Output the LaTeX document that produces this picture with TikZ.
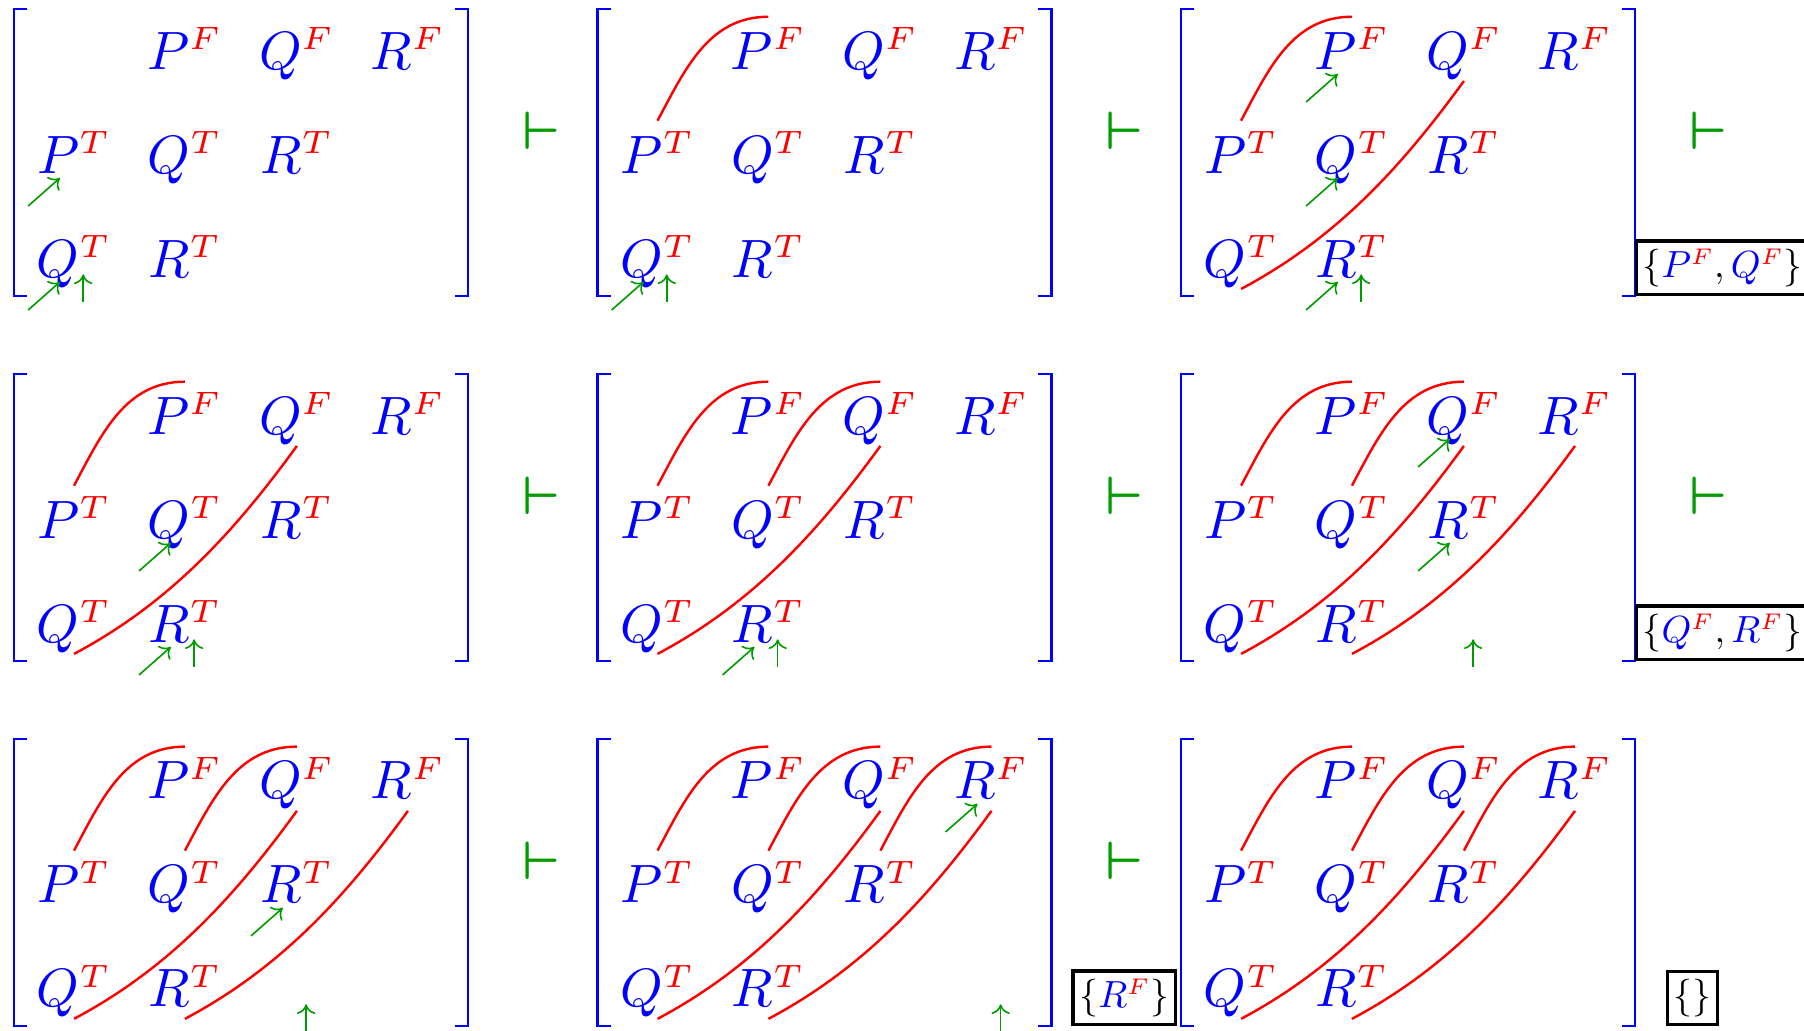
\documentclass[tikz,border=0pt]{standalone}
\usepackage{amsmath}
\usepackage{tikz}
\usetikzlibrary{arrows.meta}
\definecolor{grn}{HTML}{009B00}
\newcommand{\litr}[2]{\textcolor{blue}{#1}^{\text{\fontsize{6}{7}\selectfont\color{red}$#2$}}}
\tikzset{
  brak/.style={blue,line width=0.45pt},
  lit/.style={anchor=base,inner sep=2pt,text height=7.5pt,text depth=0pt},
  link/.style={red,line width=0.45pt},
  hop/.style={out=62,in=180},
  reach/.style={out=28,in=234,looseness=0.9},
  ptr/.style={-{To[length=1.8pt,width=3.4pt]},grn,line width=0.3pt},
  tstile/.style={grn},
  setbox/.style={draw=black,line width=0.6pt,scale=0.7,transform shape,inner xsep=1.7pt,inner ysep=2pt},
}
% one bracketed matrix, #1 = name, #2 = top left corner
\newcommand{\matpanel}[2]{%
  \begin{scope}[shift={#2}]
    \coordinate (#1-se) at (2.956,-1.868);
    \draw[brak] (0.085,0) -- (0,0) -- (0,-1.868) -- (0.085,-1.868);
    \draw[brak] (2.871,0) -- (2.956,0) -- (2.956,-1.868) -- (2.871,-1.868);
    \node[lit] (#1-pf) at (1.113,-0.391) {$\litr{P}{F}$};
    \node[lit] (#1-qf) at (1.842,-0.391) {$\litr{Q}{F}$};
    \node[lit] (#1-rf) at (2.565,-0.391) {$\litr{R}{F}$};
    \node[lit] (#1-pt) at (0.391,-1.068) {$\litr{P}{T}$};
    \node[lit] (#1-qt) at (1.113,-1.068) {$\litr{Q}{T}$};
    \node[lit] (#1-rt) at (1.842,-1.068) {$\litr{R}{T}$};
    \node[lit] (#1-qb) at (0.391,-1.745) {$\litr{Q}{T}$};
    \node[lit] (#1-rb) at (1.113,-1.745) {$\litr{R}{T}$};
    \coordinate (#1-b2) at (1.842,-1.745);
    \coordinate (#1-b3) at (2.565,-1.745);
  \end{scope}}
\newcommand{\pathmark}[1]{\draw[ptr] ([shift={(-8.5pt,-6.1pt)}]#1) -- ++(5.9pt,5.2pt);}
\newcommand{\posmark}[1]{\draw[ptr] ([shift={(1.7pt,-4.6pt)}]#1) -- ++(0,5.1pt);}

\begin{document}
\begin{tikzpicture}
  \useasboundingbox (0,0) rectangle (11.745,6.706);
  \matpanel{a}{(0.091,6.647)}
  \matpanel{b}{(3.890,6.647)}
  \matpanel{c}{(7.689,6.647)}
  \matpanel{d}{(0.091,4.271)}
  \matpanel{e}{(3.890,4.271)}
  \matpanel{f}{(7.689,4.271)}
  \matpanel{g}{(0.091,1.895)}
  \matpanel{h}{(3.890,1.895)}
  \matpanel{i}{(7.689,1.895)}

  \node[tstile] (t1) at (3.522,5.853) {$\boldsymbol{\vdash}$};
  \node[tstile] (t2) at (7.321,5.853) {$\boldsymbol{\vdash}$};
  \node[tstile] (t3) at (11.120,5.853) {$\boldsymbol{\vdash}$};
  \node[tstile] (t4) at (3.522,3.477) {$\boldsymbol{\vdash}$};
  \node[tstile] (t5) at (7.321,3.477) {$\boldsymbol{\vdash}$};
  \node[tstile] (t6) at (11.120,3.477) {$\boldsymbol{\vdash}$};
  \node[tstile] (t7) at (3.522,1.101) {$\boldsymbol{\vdash}$};
  \node[tstile] (t8) at (7.321,1.101) {$\boldsymbol{\vdash}$};

  % connections
  \draw[link] (b-pt.north) to[hop] (b-pf.north);
  \draw[link] (c-pt.north) to[hop] (c-pf.north) (c-qb.south) to[reach] (c-qf.south);
  \draw[link] (d-pt.north) to[hop] (d-pf.north) (d-qb.south) to[reach] (d-qf.south);
  \draw[link] (e-pt.north) to[hop] (e-pf.north) (e-qt.north) to[hop] (e-qf.north)
    (e-qb.south) to[reach] (e-qf.south);
  \draw[link] (f-pt.north) to[hop] (f-pf.north) (f-qt.north) to[hop] (f-qf.north)
    (f-qb.south) to[reach] (f-qf.south) (f-rb.south) to[reach] (f-rf.south);
  \draw[link] (g-pt.north) to[hop] (g-pf.north) (g-qt.north) to[hop] (g-qf.north)
    (g-qb.south) to[reach] (g-qf.south) (g-rb.south) to[reach] (g-rf.south);
  \draw[link] (h-pt.north) to[hop] (h-pf.north) (h-qt.north) to[hop] (h-qf.north)
    (h-rt.north) to[hop] (h-rf.north)
    (h-qb.south) to[reach] (h-qf.south) (h-rb.south) to[reach] (h-rf.south);
  \draw[link] (i-pt.north) to[hop] (i-pf.north) (i-qt.north) to[hop] (i-qf.north)
    (i-rt.north) to[hop] (i-rf.north)
    (i-qb.south) to[reach] (i-qf.south) (i-rb.south) to[reach] (i-rf.south);

  % active path and position
  \pathmark{a-pt.base} \pathmark{a-qb.base} \posmark{a-qb.base}
  \pathmark{b-qb.base} \posmark{b-qb.base}
  \pathmark{c-pf.base} \pathmark{c-qt.base} \pathmark{c-rb.base} \posmark{c-rb.base}
  \pathmark{d-qt.base} \pathmark{d-rb.base} \posmark{d-rb.base}
  \pathmark{e-rb.base} \posmark{e-rb.base}
  \pathmark{f-qf.base} \pathmark{f-rt.base} \posmark{f-b2}
  \pathmark{g-rt.base} \posmark{g-b2}
  \pathmark{h-rf.base} \posmark{h-b3}

  % sets
  \node[setbox,anchor=south west] (c-set) at (c-se) {$\{\litr{P}{F},\litr{Q}{F}\}$};
  \node[setbox,anchor=south west] (f-set) at (f-se) {$\{\litr{Q}{F},\litr{R}{F}\}$};
  \node[setbox,anchor=south] (h-set) at (t8 |- h-se) {$\{\litr{R}{F}\}$};
  \node[setbox,anchor=south] (i-set) at ([xshift=0.374cm]i-se) {$\{\}$};
\end{tikzpicture}
\end{document}
